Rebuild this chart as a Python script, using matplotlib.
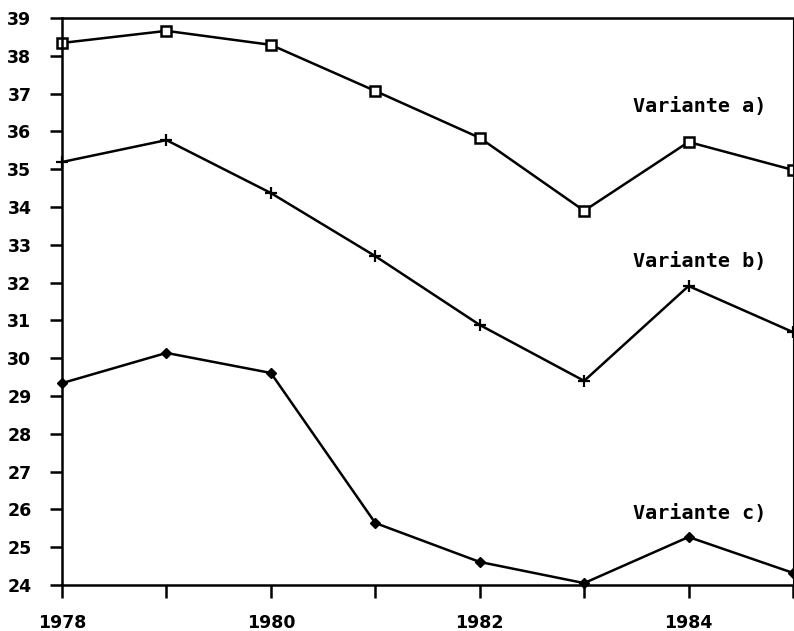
import matplotlib.pyplot as plt

jahre = [1978, 1979, 1980, 1981, 1982, 1983, 1984, 1985]
variante_a = [38.34, 38.66, 38.29, 37.07, 35.83, 33.90, 35.72, 34.98]
variante_b = [35.19, 35.77, 34.37, 32.70, 30.88, 29.40, 31.91, 30.69]
variante_c = [29.34, 30.14, 29.61, 25.64, 24.61, 24.05, 25.27, 24.32]
beschriftungen = ["Variante a)", "Variante b)", "Variante c)"]
label_pos = [(1983.47, 36.65), (1983.47, 32.55), (1983.47, 25.9)]

fig = plt.figure(figsize=(7.94, 6.31), dpi=100)
ax = fig.add_axes([62 / 794, (631 - 585) / 631, (793 - 62) / 794, (585 - 18) / 631])

# Linien mit den alten Markern
ax.plot(jahre, variante_a, color="black", lw=1.8, marker="s", ms=6.5,
        mfc="white", mec="black", mew=1.8, clip_on=False)
ax.plot(jahre, variante_b, color="black", lw=1.8, marker="+", ms=8,
        mew=1.6, clip_on=False)
ax.plot(jahre, variante_c, color="black", lw=1.8, marker="D", ms=5.5,
        mfc="black", mec="black", clip_on=False)

for text, (x, y) in zip(beschriftungen, label_pos):
    ax.text(x, y, text, family="DejaVu Sans Mono", fontsize=14.5,
            fontweight="bold", ha="left", va="center")

ax.set_xlim(1978, 1985)
ax.set_ylim(24, 39)
ax.set_xticks(jahre)
ax.set_xticklabels([str(j) if j % 2 == 0 else "" for j in jahre])
ax.set_yticks(range(24, 40))

ax.tick_params(axis="both", direction="out", length=9, width=1.8,
               labelsize=12.5)
ax.tick_params(axis="y", pad=13)
ax.tick_params(axis="x", pad=12)
for lbl in ax.get_xticklabels() + ax.get_yticklabels():
    lbl.set_fontweight("bold")

for side in ["left", "bottom", "top"]:
    ax.spines[side].set_linewidth(1.8)
ax.spines["right"].set_linewidth(0.8)

fig.savefig("out.png", dpi=100)
